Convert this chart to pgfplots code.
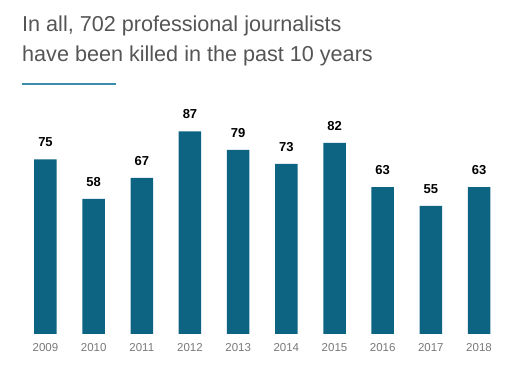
\documentclass[border=0pt]{standalone}
\usepackage{pgfplots}
\pgfplotsset{compat=1.18}
\usepackage{fontspec}
\setmainfont{Liberation Sans}
\definecolor{barteal}{RGB}{12,99,130}
\definecolor{lineteal}{RGB}{60,140,172}
\definecolor{titlegray}{RGB}{85,85,85}
\definecolor{ticklabgray}{RGB}{120,120,120}
\begin{document}
\begin{tikzpicture}[x=1pt,y=1pt]
\path[use as bounding box] (0,0) rectangle (515,383);
\node[anchor=base west, inner sep=0pt, text=titlegray, font=\fontsize{21.6}{25}\selectfont] at (22,351) {In all, 702 professional journalists};
\node[anchor=base west, inner sep=0pt, text=titlegray, font=\fontsize{21.6}{25}\selectfont] at (22,321) {have been killed in the past 10 years};
\draw[lineteal, line width=1.6pt] (22,299) -- (116,299);
\begin{axis}[
  at={(21.4pt,49pt)}, anchor=south west,
  scale only axis, width=481.7pt, height=209.7pt,
  xmin=-0.5, xmax=9.5, ymin=0, ymax=90,
  axis line style={draw=none},
  ytick=\empty,
  xtick=data,
  xticklabels={2009,2010,2011,2012,2013,2014,2015,2016,2017,2018},
  major tick length=0pt,
  /pgf/number format/assume math mode=true,
  xticklabel style={text=ticklabgray, font=\fontsize{11.5}{13}\selectfont, inner sep=0pt, anchor=base, yshift=-18pt},
  ybar, bar width=22.5pt,
  nodes near coords,
  nodes near coords style={anchor=base, inner sep=0pt, yshift=12.5pt, font=\bfseries\fontsize{13}{15}\selectfont, text=black},
  clip=false,
]
\addplot[fill=barteal, draw=none] coordinates {(0,75) (1,58) (2,67) (3,87) (4,79) (5,73) (6,82) (7,63) (8,55) (9,63)};
\end{axis}
\end{tikzpicture}
\end{document}
